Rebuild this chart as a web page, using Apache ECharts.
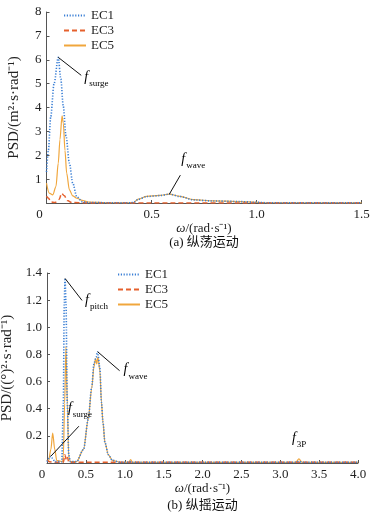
<!DOCTYPE html>
<html>
<head>
<meta charset="utf-8">
<script src="https://cdn.jsdelivr.net/npm/echarts@6/dist/echarts.min.js"></script>
<style>html,body{margin:0;padding:0;background:#fff}#c{width:380px;height:516px}</style>
</head>
<body>
<div id="c"></div>
<script>
// ---------- data (omega [rad/s], PSD) ----------
// (a) surge motion
const surgeEC1 = [[0,1.3],[0.009,2.2],[0.02,3.6],[0.036,5.0],[0.056,6.1],[0.068,5.2],[0.08,4.05],[0.093,2.8],[0.109,1.67],[0.125,0.83],[0.144,0.27],[0.17,0.05],[0.2,0.02],[0.3,0.01],[0.4,0.01],[0.413,0.02],[0.437,0.15],[0.477,0.27],[0.54,0.31],[0.585,0.37],[0.636,0.27],[0.7,0.13],[0.794,0.085],[0.92,0.06],[1.0,0.03],[1.05,0.01],[1.2,0.005],[1.5,0.005]];
const surgeEC3 = [[0,0.28],[0.01,0.2],[0.02,0.05],[0.04,0.02],[0.06,0.15],[0.072,0.4],[0.085,0.3],[0.1,0.1],[0.12,0.02],[0.2,0.005],[1.5,0.005]];
const surgeEC5 = [[0,0.83],[0.013,0.41],[0.03,0.34],[0.045,0.69],[0.056,1.67],[0.064,2.65],[0.074,3.65],[0.08,3.35],[0.088,2.2],[0.096,1.25],[0.109,0.55],[0.125,0.3],[0.144,0.2],[0.175,0.1],[0.2,0.04],[0.3,0.01],[0.4,0.01],[0.413,0.02],[0.437,0.16],[0.477,0.28],[0.54,0.32],[0.585,0.37],[0.636,0.28],[0.7,0.14],[0.794,0.09],[0.92,0.06],[1.0,0.03],[1.05,0.01],[1.5,0.005]];
// (b) pitch motion
const pitchEC1 = [[0,0.01],[0.03,0.035],[0.05,0.05],[0.07,0.035],[0.1,0.01],[0.19,0.01],[0.21,0.44],[0.222,1.18],[0.232,1.36],[0.244,1.18],[0.261,0.44],[0.28,0.06],[0.3,0.01],[0.38,0.01],[0.47,0.1],[0.53,0.32],[0.575,0.56],[0.604,0.73],[0.63,0.78],[0.651,0.82],[0.68,0.7],[0.70,0.45],[0.72,0.3],[0.745,0.15],[0.79,0.06],[0.84,0.02],[0.94,0.005],[1.06,0.005],[1.076,0.01],[1.09,0.005],[3.2,0.005],[3.24,0.012],[3.28,0.005],[4.0,0.005]];
const pitchEC3 = [[0,0.02],[0.03,0.01],[0.1,0.005],[0.21,0.005],[0.23,0.06],[0.25,0.02],[0.265,0.04],[0.28,0.005],[4.0,0.005]];
const pitchEC5 = [[0,0.02],[0.02,0.015],[0.05,0.1],[0.073,0.22],[0.1,0.1],[0.125,0.02],[0.2,0.01],[0.21,0.05],[0.227,0.44],[0.244,0.86],[0.261,0.44],[0.279,0.05],[0.3,0.01],[0.38,0.01],[0.47,0.1],[0.53,0.32],[0.575,0.55],[0.604,0.71],[0.625,0.77],[0.64,0.73],[0.655,0.78],[0.68,0.68],[0.70,0.45],[0.72,0.3],[0.745,0.15],[0.79,0.06],[0.84,0.02],[0.94,0.005],[1.05,0.005],[1.076,0.025],[1.1,0.005],[3.2,0.005],[3.24,0.03],[3.28,0.005],[4.0,0.005]];

const seriesNames = ['EC1','EC3','EC5'];
const xTicksA = [0, 1.5, 0.5];   // min, max, interval
const yTicksA = [0, 8, 1];
const xTicksB = [0, 4, 0.5];
const yTicksB = [0, 1.4, 0.2];
const captions = ['(a) 纵荡运动', '(b) 纵摇运动'];
const yNames = ['PSD/(m²·s·rad⁻¹)', 'PSD/((°)²·s·rad⁻¹)'];
const xName = '{i|ω}/(rad·s⁻¹)';

// ---------- styles ----------
const SERIF = '"Liberation Serif", "Times New Roman", "Noto Sans CJK SC", serif';
const CJK = '"Liberation Serif", "Noto Sans CJK SC", serif';
const C1 = '#3a7fd5', C3 = '#e5602d', C5 = '#f0a63c';
const AX = '#555';

const grids = [
  {left: 46.5, right: 18.5, top: 12, bottom: 313, outerBoundsMode: 'none', containLabel: false},
  {left: 47, right: 22, top: 273, bottom: 53, outerBoundsMode: 'none', containLabel: false}
];

function xAxis(gi, t, zeroShift, gap) {
  return {
    type: 'value', gridIndex: gi, min: t[0], max: t[1], interval: t[2],
    name: xName, nameLocation: 'middle', nameGap: gap,
    nameTextStyle: {fontFamily: SERIF, fontSize: 13, color: '#222', rich: {i: {fontStyle: 'italic', fontFamily: SERIF, fontSize: 13, color: '#222'}}},
    axisLine: {lineStyle: {color: AX, width: 1}},
    axisTick: {inside: true, length: 3, lineStyle: {color: AX}},
    splitLine: {show: false},
    axisLabel: {fontFamily: SERIF, fontSize: 13, color: '#222', margin: 5,
      formatter: v => v === 0 ? '{z|0}' : v.toFixed(1),
      rich: {z: {fontFamily: SERIF, fontSize: 13, color: '#222', padding: [0, zeroShift, 0, 0]}}}
  };
}
function yAxis(gi, t, name, fmt) {
  return {
    type: 'value', gridIndex: gi, min: t[0], max: t[1], interval: t[2],
    name: name, nameLocation: 'middle', nameGap: 25,
    nameTextStyle: {fontFamily: SERIF, fontSize: 15, color: '#222'},
    axisLine: {show: true, lineStyle: {color: AX, width: 1}},
    axisTick: {show: true, inside: true, length: 3, lineStyle: {color: AX}},
    splitLine: {show: false},
    axisLabel: {fontFamily: SERIF, fontSize: 13, color: '#222', margin: 5,
      formatter: v => v === 0 ? '' : fmt(v)}
  };
}
function mk(name, data, gi) {
  const st = {
    EC1: {color: C1, width: 1.6, type: [1.2, 1.6], z: 4},
    EC3: {color: C3, width: 1.5, type: [5, 3], z: 3},
    EC5: {color: C5, width: 1.2, type: 'solid', z: 2}
  }[name];
  return {
    name, type: 'line', xAxisIndex: gi, yAxisIndex: gi, data,
    showSymbol: false, symbol: 'none', smooth: 0.3, smoothMonotone: 'x',
    z: st.z, color: st.color,
    lineStyle: {color: st.color, width: st.width, type: st.type},
    itemStyle: {color: st.color}, animation: false
  };
}
function legend(left, top) {
  return {
    show: true, orient: 'vertical', left, top, itemWidth: 22, itemHeight: 10, itemGap: 2,
    data: seriesNames,
    itemStyle: {opacity: 0, borderWidth: 0},
    textStyle: {fontFamily: SERIF, fontSize: 13, color: '#222'},
    selectedMode: false
  };
}

const chart = echarts.init(document.getElementById('c'), null, {renderer: 'canvas'});
chart.setOption({
  animation: false,
  backgroundColor: '#fff',
  grid: grids,
  xAxis: [xAxis(0, xTicksA, 14, 17), xAxis(1, xTicksB, 10, 18)],
  yAxis: [yAxis(0, yTicksA, yNames[0], v => String(v)), yAxis(1, yTicksB, yNames[1], v => v.toFixed(1))],
  legend: [legend(58, 4), legend(112, 263)],
  series: [
    mk('EC5', surgeEC5, 0), mk('EC3', surgeEC3, 0), mk('EC1', surgeEC1, 0),
    mk('EC5', pitchEC5, 1), mk('EC3', pitchEC3, 1), mk('EC1', pitchEC1, 1)
  ]
});

// ---------- annotations anchored to data ----------
function peak(arr, lo, hi) {
  let best = null;
  arr.forEach(p => { if (p[0] >= lo && p[0] <= hi && (!best || p[1] > best[1])) best = p; });
  return best;
}
const annotations = [
  {gi: 0, pt: peak(surgeEC1, 0, 0.2), sub: 'surge', line: [23, 18], lab: [26, 22]},
  {gi: 0, pt: peak(surgeEC1, 0.4, 0.8), sub: 'wave', line: [11, -19], lab: [12, -33]},
  {gi: 1, pt: peak(pitchEC1, 0.1, 0.4), sub: 'pitch', line: [17, 22], lab: [20, 24]},
  {gi: 1, pt: peak(pitchEC1, 0.4, 1.0), sub: 'wave', line: [22, 19], lab: [26, 20]},
  {gi: 1, pt: peak(pitchEC1, 0, 0.15), sub: 'surge', line: [28, -30], lab: [17, -46]},
  {gi: 1, pt: peak(pitchEC5, 3, 3.5), sub: '3P', line: null, lab: [-7, -19]}
];
const rich = {
  f: {fontFamily: SERIF, fontStyle: 'italic', fontSize: 14, color: '#111', lineHeight: 18, verticalAlign: 'top'},
  s: {fontFamily: SERIF, fontSize: 9, color: '#111', lineHeight: 18, verticalAlign: 'bottom', padding: [0,0,0,1]}
};
const g = [];
annotations.forEach(a => {
  const p = chart.convertToPixel({gridIndex: a.gi}, a.pt);
  if (a.line) {
    g.push({type: 'line', shape: {x1: p[0], y1: p[1], x2: p[0] + a.line[0], y2: p[1] + a.line[1]},
      style: {stroke: '#111', lineWidth: 1}, z: 100});
  }
  g.push({type: 'text', x: p[0] + a.lab[0], y: p[1] + a.lab[1] - 9, z: 100,
    style: {text: '{f|f}{s|' + a.sub + '}', rich, textVerticalAlign: 'top'}});
});
// captions under each grid
grids.forEach((gr, i) => {
  const cx = (gr.left + (380 - gr.right)) / 2;
  const yb = 516 - gr.bottom;
  g.push({type: 'text', x: cx, y: yb + (i === 0 ? 40 : 43), z: 100,
    style: {text: captions[i], font: '13px ' + CJK, fill: '#111', textAlign: 'center', textVerticalAlign: 'middle'}});
});
chart.setOption({graphic: g});
</script>
</body>
</html>
